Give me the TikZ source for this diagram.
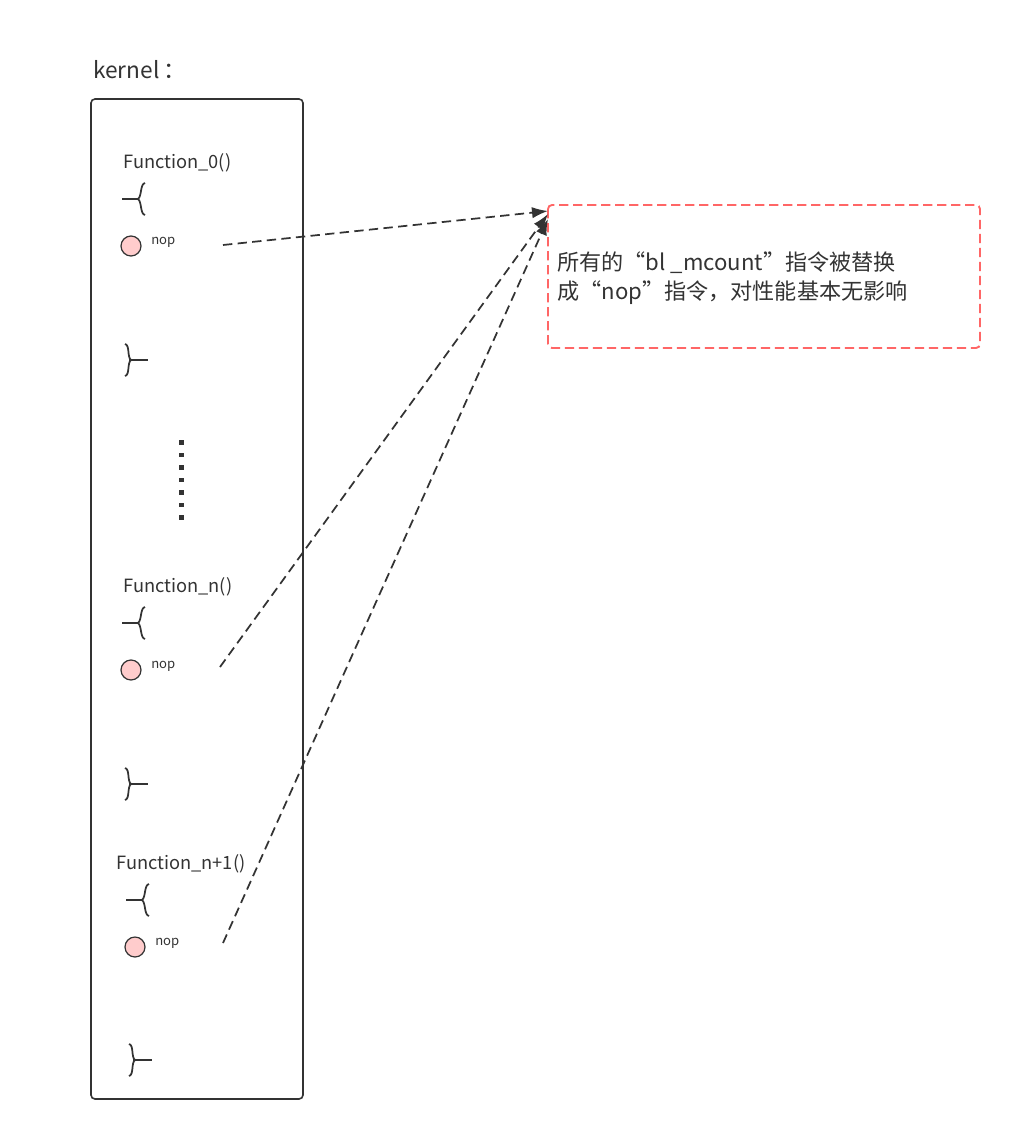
\documentclass[tikz,border=0pt]{standalone}
\usepackage{fontspec}
\setmainfont{Noto Sans CJK SC}
\usetikzlibrary{arrows.meta}
\definecolor{ink}{HTML}{333333}
\definecolor{pinkfill}{HTML}{FFCCCC}
\definecolor{redline}{HTML}{FF6666}
\tikzset{
  px/.style={x=0.75pt,y=-0.75pt},
  funclabel/.style={anchor=west,inner sep=0pt,text=ink,font=\fontsize{13.7pt}{15pt}\selectfont},
  noplabel/.style={anchor=west,inner sep=0pt,text=ink,font=\fontsize{9.8pt}{11pt}\selectfont},
  nopdot/.style={circle,draw=ink,fill=pinkfill,line width=0.9pt,minimum size=15pt,inner sep=0pt},
  bracestroke/.style={draw=ink,line width=1.3pt},
  conn/.style={draw=ink,line width=1.3pt,dash pattern=on 7pt off 4pt,-{Latex[length=12pt,width=8.5pt]}},
}
\newcommand{\openbrace}[3]{% x of brace, y middle, x of line start
  \draw[bracestroke] (#3,#2) -- (#1-7,#2);
  \draw[bracestroke] (#1,#2-16) .. controls (#1-5,#2-15) and (#1-3,#2-3) .. (#1-7,#2) .. controls (#1-3,#2+3) and (#1-5,#2+15) .. (#1,#2+16);
}
\newcommand{\closebrace}[3]{% x of brace, y middle, x of line end
  \draw[bracestroke] (#1+4,#2) -- (#3,#2);
  \draw[bracestroke] (#1,#2-16) .. controls (#1+5,#2-15) and (#1+2,#2-3) .. (#1+6,#2) .. controls (#1+2,#2+3) and (#1+5,#2+15) .. (#1,#2+16);
}
\begin{document}
\begin{tikzpicture}[px]
\useasboundingbox[fill=white] (0,0) rectangle (1012,1131);

% kernel label and frame
\node[anchor=west,inner sep=0pt,text=ink,font=\fontsize{17pt}{19pt}\selectfont] (kernel) at (93,70) {kernel\,：};
\draw[ink,line width=1.2pt,rounded corners=3pt] (91,99) rectangle (303,1099);
\coordinate (frame) at (197,599);

% Function_0
\node[funclabel] (f0) at (123,163) {Function\_0()};
\openbrace{145}{199}{122}
\node[nopdot] (c0) at (131,246) {};
\node[noplabel] (n0) at (151,242) {nop};
\closebrace{125}{360}{148}

% vertical dots
\foreach \i in {0,...,6} {
  \fill[ink] (179,440+12.5*\i) rectangle (183.5,444.5+12.5*\i);
}

% Function_n
\node[funclabel] (fn) at (123,587) {Function\_n()};
\openbrace{145}{623}{122}
\node[nopdot] (cn) at (131,670) {};
\node[noplabel] (nn) at (151,666) {nop};
\closebrace{125}{784}{148}

% Function_n+1
\node[funclabel] (fn1) at (116,864) {Function\_n+1()};
\openbrace{149}{900}{126}
\node[nopdot] (cn1) at (135,947) {};
\node[noplabel] (nn1) at (155,943) {nop};
\closebrace{129}{1060}{152}

% note box
\draw[redline,line width=1.4pt,dash pattern=on 7pt off 3.5pt,rounded corners=3pt] (548,205) rectangle (980,348);
\node[anchor=west,inner sep=0pt,align=left,text=ink,font=\fontsize{16.6pt}{22pt}\selectfont] (note) at (557,278) {所有的“bl \_mcount”指令被替换\\成“nop”指令，对性能基本无影响};

% connectors
\coordinate (s0) at (223,245);
\coordinate (sn) at (220,667);
\coordinate (sn1) at (223,943);
\coordinate (t0) at (548,211);
\coordinate (tn) at (548,214);
\coordinate (tn1) at (548,219);
\draw[conn] (s0) -- (t0);
\draw[conn] (sn) -- (tn);
\draw[conn] (sn1) -- (tn1);
\end{tikzpicture}
\end{document}
